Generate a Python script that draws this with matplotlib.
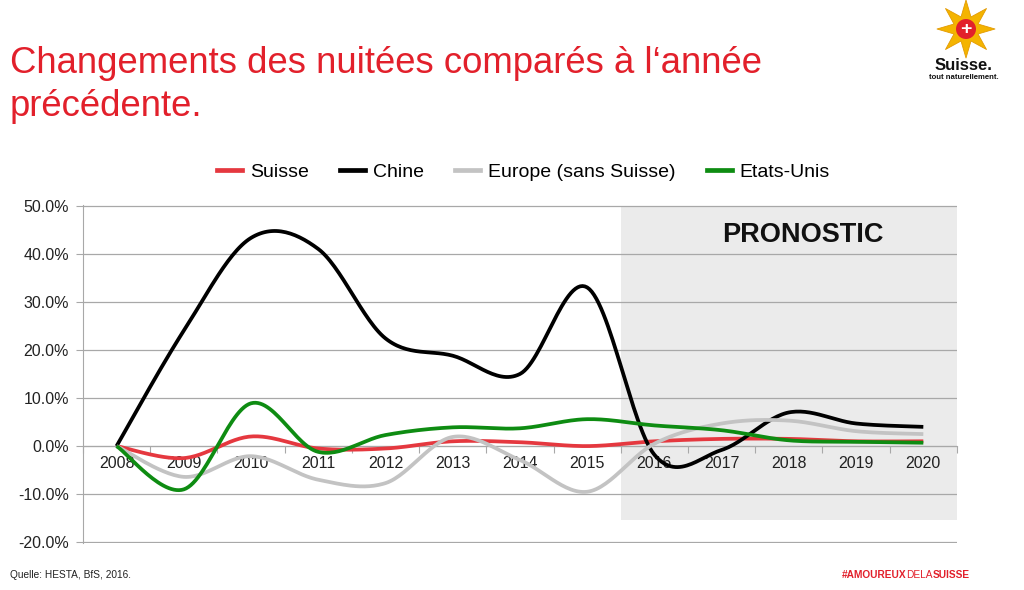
"""Changements des nuitées comparés à l'année précédente (slide recreation)."""

import matplotlib

matplotlib.use("Agg")
import matplotlib.pyplot as plt
import numpy as np
from matplotlib.lines import Line2D
from matplotlib.patches import Ellipse, Polygon, Rectangle

plt.rcParams["font.family"] = ["Liberation Sans", "DejaVu Sans"]

YEARS = ["2008", "2009", "2010", "2011", "2012", "2013", "2014",
         "2015", "2016", "2017", "2018", "2019", "2020"]
SUISSE = [0.0, -2.5, 2.0, -0.5, -0.5, 1.0, 0.8, 0.0, 1.0, 1.5, 1.5, 1.0, 1.0]
CHINE = [0.0, 24.0, 43.3, 41.0, 22.4, 18.8, 15.0, 33.0, -1.8, -0.8, 7.0, 4.7, 4.0]
EUROPE = [0.0, -6.4, -2.1, -7.0, -7.7, 1.9, -2.9, -9.5, 0.5, 4.7, 5.3, 3.1, 2.5]
USA = [0.0, -9.0, 8.9, -1.2, 2.3, 3.9, 3.7, 5.6, 4.3, 3.3, 1.2, 0.9, 0.7]

SERIES = [
    ("Suisse", SUISSE, "#E5383F"),
    ("Chine", CHINE, "#000000"),
    ("Europe (sans Suisse)", EUROPE, "#C3C3C3"),
    ("Etats-Unis", USA, "#0E8C12"),
]

FORECAST_START = "2016"
FORECAST_FLOOR = -15.3
RED = "#E2202B"


def smooth(xs, ys, steps=30):
    """Excel-like smoothed line: cubic Bezier through every point."""
    pts = np.column_stack([xs, ys]).astype(float)
    out = [pts[0]]
    t = np.linspace(0, 1, steps)[1:, None]
    for i in range(len(pts) - 1):
        p0 = pts[max(i - 1, 0)]
        p1 = pts[i]
        p2 = pts[i + 1]
        p3 = pts[min(i + 2, len(pts) - 1)]
        c1 = p1 + (p2 - p0) / 6.0
        c2 = p2 - (p3 - p1) / 6.0
        seg = ((1 - t) ** 3 * p1 + 3 * (1 - t) ** 2 * t * c1
               + 3 * (1 - t) * t ** 2 * c2 + t ** 3 * p2)
        out.extend(seg)
    out = np.array(out)
    return out[:, 0], out[:, 1]


fig = plt.figure(figsize=(10.24, 5.9), dpi=100)
ax = fig.add_axes([0.081, 0.0797, 0.8535, 0.5729])

x = np.arange(len(YEARS))
start = YEARS.index(FORECAST_START) - 0.5
ax.add_patch(Rectangle((start, FORECAST_FLOOR), len(YEARS) - 0.5 - start,
                       50 - FORECAST_FLOOR, facecolor="#EBEBEB",
                       edgecolor="none", zorder=0))

for name, values, color in SERIES:
    sx, sy = smooth(x, values)
    ax.plot(sx, sy, color=color, lw=2.7, solid_capstyle="butt", zorder=3)

ax.set_xlim(-0.5, len(YEARS) - 0.5)
ax.set_ylim(-20.15, 50.15)
ax.set_yticks(np.arange(-20, 51, 10))
ax.set_yticklabels([f"{v:.1f}%" for v in np.arange(-20, 51, 10)])
ax.grid(axis="y", color="#A8A8A8", lw=0.9, zorder=1)
ax.set_axisbelow(False)

ax.spines["top"].set_visible(False)
ax.spines["right"].set_visible(False)
ax.spines["left"].set_color("#A8A8A8")
ax.spines["bottom"].set_position(("data", 0))
ax.spines["bottom"].set_color("#A8A8A8")
ax.spines["bottom"].set_zorder(1)

ax.set_xticks(np.arange(-0.5, len(YEARS), 1.0))
ax.set_xticklabels([])
ax.set_xticks(x, minor=True)
ax.set_xticklabels(YEARS, minor=True)
ax.tick_params(axis="x", which="major", length=5, color="#A8A8A8", direction="out")
ax.tick_params(axis="x", which="minor", length=0, pad=7, labelsize=11.5,
               labelcolor="#222222")
ax.tick_params(axis="y", length=5, color="#A8A8A8", labelsize=11.5,
               labelcolor="#222222", pad=5)

ax.text(10.21, 44.0, "PRONOSTIC", ha="center", va="center",
        fontsize=19.5, fontweight="bold", color="#111111", zorder=4)

handles = [Line2D([], [], color=c, lw=3.4, label=n) for n, _, c in SERIES]
fig.legend(handles=handles, loc="center", bbox_to_anchor=(0.511, 0.708),
           ncol=4, frameon=False, fontsize=14, handlelength=1.3,
           columnspacing=1.6, handletextpad=0.4)

fig.text(0.0098, 0.893, "Changements des nuitées comparés à l\u2018année",
         fontsize=26.3, color=RED, ha="left", va="center")
fig.text(0.0098, 0.820, "précédente.", fontsize=26.3, color=RED,
         ha="left", va="center")

fig.text(0.0098, 0.025, "Quelle: HESTA, BfS, 2016.", fontsize=7.3,
         color="#222222", ha="left", va="center")

# hashtag footer
fx = 0.822
for part, weight in (("#AMOUREUX", "bold"), ("DELA", "normal"), ("SUISSE", "bold")):
    t = fig.text(fx, 0.025, part, fontsize=7.3, color=RED, fontweight=weight,
                 ha="left", va="center")
    fig.canvas.draw()
    fx = t.get_window_extent().x1 / fig.bbox.width

# logo: yellow star with Swiss cross
cx, cy, r_out, r_in = 966, 561, 29, 13
angles = np.linspace(np.pi / 2, np.pi / 2 + 2 * np.pi, 17)[:-1]
radii = np.where(np.arange(16) % 2 == 0, r_out, r_in)
star = np.column_stack([(cx + radii * np.cos(angles)) / 1024,
                        (cy + radii * np.sin(angles)) / 590])
fig.patches.append(Polygon(star, closed=True, facecolor="#F4B400",
                           edgecolor="#E39A00", lw=0.6, joinstyle="round",
                           transform=fig.transFigure, figure=fig))
fig.patches.append(Ellipse((cx / 1024, cy / 590), 20 / 1024, 20 / 590,
                           facecolor=RED, edgecolor="none",
                           transform=fig.transFigure, figure=fig))
fig.text(cx / 1024, cy / 590 - 0.001, "+", fontsize=14, fontweight="bold",
         color="white", ha="center", va="center")
fig.text(0.941, 0.889, "Suisse.", fontsize=12, fontweight="bold",
         color="#111111", ha="center", va="center")
fig.text(0.941, 0.869, "tout naturellement.", fontsize=5.6, fontweight="bold",
         color="#111111", ha="center", va="center")

fig.savefig("out.png", dpi=100, facecolor="white")
